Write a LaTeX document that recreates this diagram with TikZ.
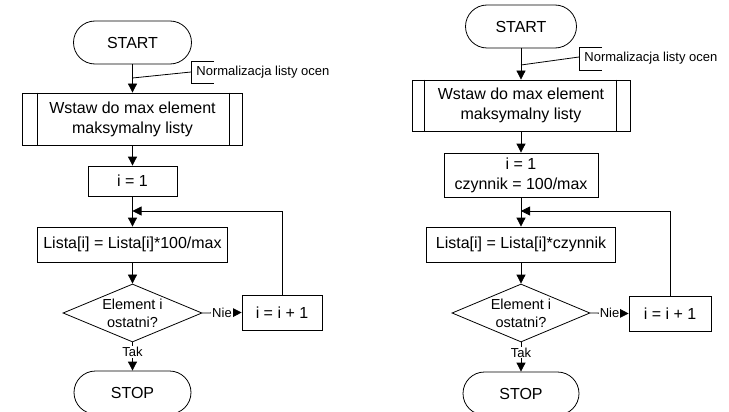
\documentclass[tikz,border=0pt]{standalone}
\usepackage{fontspec}
\setmainfont{Liberation Sans}
\usetikzlibrary{arrows.meta,shapes.geometric,calc}
\begin{document}
\begin{tikzpicture}[x=1pt,y=-1pt,
  line width=0.8pt,
  every node/.style={font=\fontsize{16}{20}\selectfont},
  term/.style={draw,rectangle,rounded corners=21.5pt,minimum height=43pt,inner sep=0pt},
  proc/.style={draw,rectangle,inner sep=0pt,align=center},
  subr/.style={draw,rectangle,inner sep=0pt,align=center},
  dec/.style={draw,diamond,aspect=2.4,inner sep=-4pt,minimum width=139pt,minimum height=58pt,align=center,font=\fontsize{14.5}{18}\selectfont},
  small/.style={font=\fontsize{13}{15}\selectfont,inner sep=1pt},
  lbl/.style={small,fill=white},
  arr/.style={-{Triangle[length=9pt,width=9pt]}},
]
\useasboundingbox (0,0) rectangle (729,412);

% ---------- left chart ----------
\node[term,minimum width=118pt] (startL) at (132.5,42.5) {START};
\node[subr,minimum width=220pt,minimum height=52pt] (subL) at (132.5,119) {Wstaw do max element\\maksymalny listy};
\draw ([xshift=15pt]subL.north west) -- ([xshift=15pt]subL.south west);
\draw ([xshift=-14pt]subL.north east) -- ([xshift=-14pt]subL.south east);
\node[proc,minimum width=89pt,minimum height=30pt] (i1L) at (132.5,181) {i = 1};
\node[proc,minimum width=190pt,minimum height=35pt] (listaL) at (132.5,244.5) {Lista[i] = Lista[i]*100/max};
\node[dec] (decL) at (132.5,313) {Element i\\ostatni?};
\node[proc,minimum width=80pt,minimum height=35pt] (incL) at (282,312.5) {i = i + 1};
\node[term,minimum width=117pt] (stopL) at (132.5,392.5) {STOP};
\coordinate (joinL) at (132.5,211);
\coordinate (brL) at (191,72);
\node[small,anchor=west] (noteL) at (195,72) {Normalizacja listy ocen};
\draw (214,61) -- (191,61) -- (191,83) -- (214,83);
\draw (brL) -- (132.5,78);

\draw[arr] (startL) -- (subL);
\draw[arr] (subL) -- (i1L);
\draw[arr] (i1L) -- (listaL);
\draw[arr] (listaL) -- (decL);
\draw[arr] (decL.east) -- node[lbl] {Nie} (incL.west);
\draw[arr] (incL.north) |- (joinL);
\draw[arr] (decL.south) -- node[lbl,pos=0.35] {Tak} (stopL.north);

% ---------- right chart ----------
\node[term,minimum width=111pt] (startR) at (521,26.5) {START};
\node[subr,minimum width=218pt,minimum height=51pt] (subR) at (521,105.5) {Wstaw do max element\\maksymalny listy};
\draw ([xshift=13pt]subR.north west) -- ([xshift=13pt]subR.south west);
\draw ([xshift=-14pt]subR.north east) -- ([xshift=-14pt]subR.south east);
\node[proc,minimum width=154pt,minimum height=44pt] (i1R) at (521,175) {i = 1\\czynnik = 100/max};
\node[proc,minimum width=189pt,minimum height=35pt] (listaR) at (521,244.5) {Lista[i] = Lista[i]*czynnik};
\node[dec,minimum width=138pt] (decR) at (521,313) {Element i\\ostatni?};
\node[proc,minimum width=82pt,minimum height=35pt] (incR) at (670,313.5) {i = i + 1};
\node[term,minimum width=116pt] (stopR) at (521,393.5) {STOP};
\coordinate (joinR) at (521,211);
\coordinate (brR) at (579,57);
\node[small,anchor=west] (noteR) at (583,58.5) {Normalizacja listy ocen};
\draw (602,47) -- (579,47) -- (579,70) -- (602,70);
\draw (brR) -- (521,65);

\draw[arr] (startR) -- (subR);
\draw[arr] (subR) -- (i1R);
\draw[arr] (i1R) -- (listaR);
\draw[arr] (listaR) -- (decR);
\draw[arr] (decR.east) -- node[lbl] {Nie} (incR.west);
\draw[arr] (incR.north) |- (joinR);
\draw[arr] (decR.south) -- node[lbl,pos=0.35] {Tak} (stopR.north);
\end{tikzpicture}
\end{document}
